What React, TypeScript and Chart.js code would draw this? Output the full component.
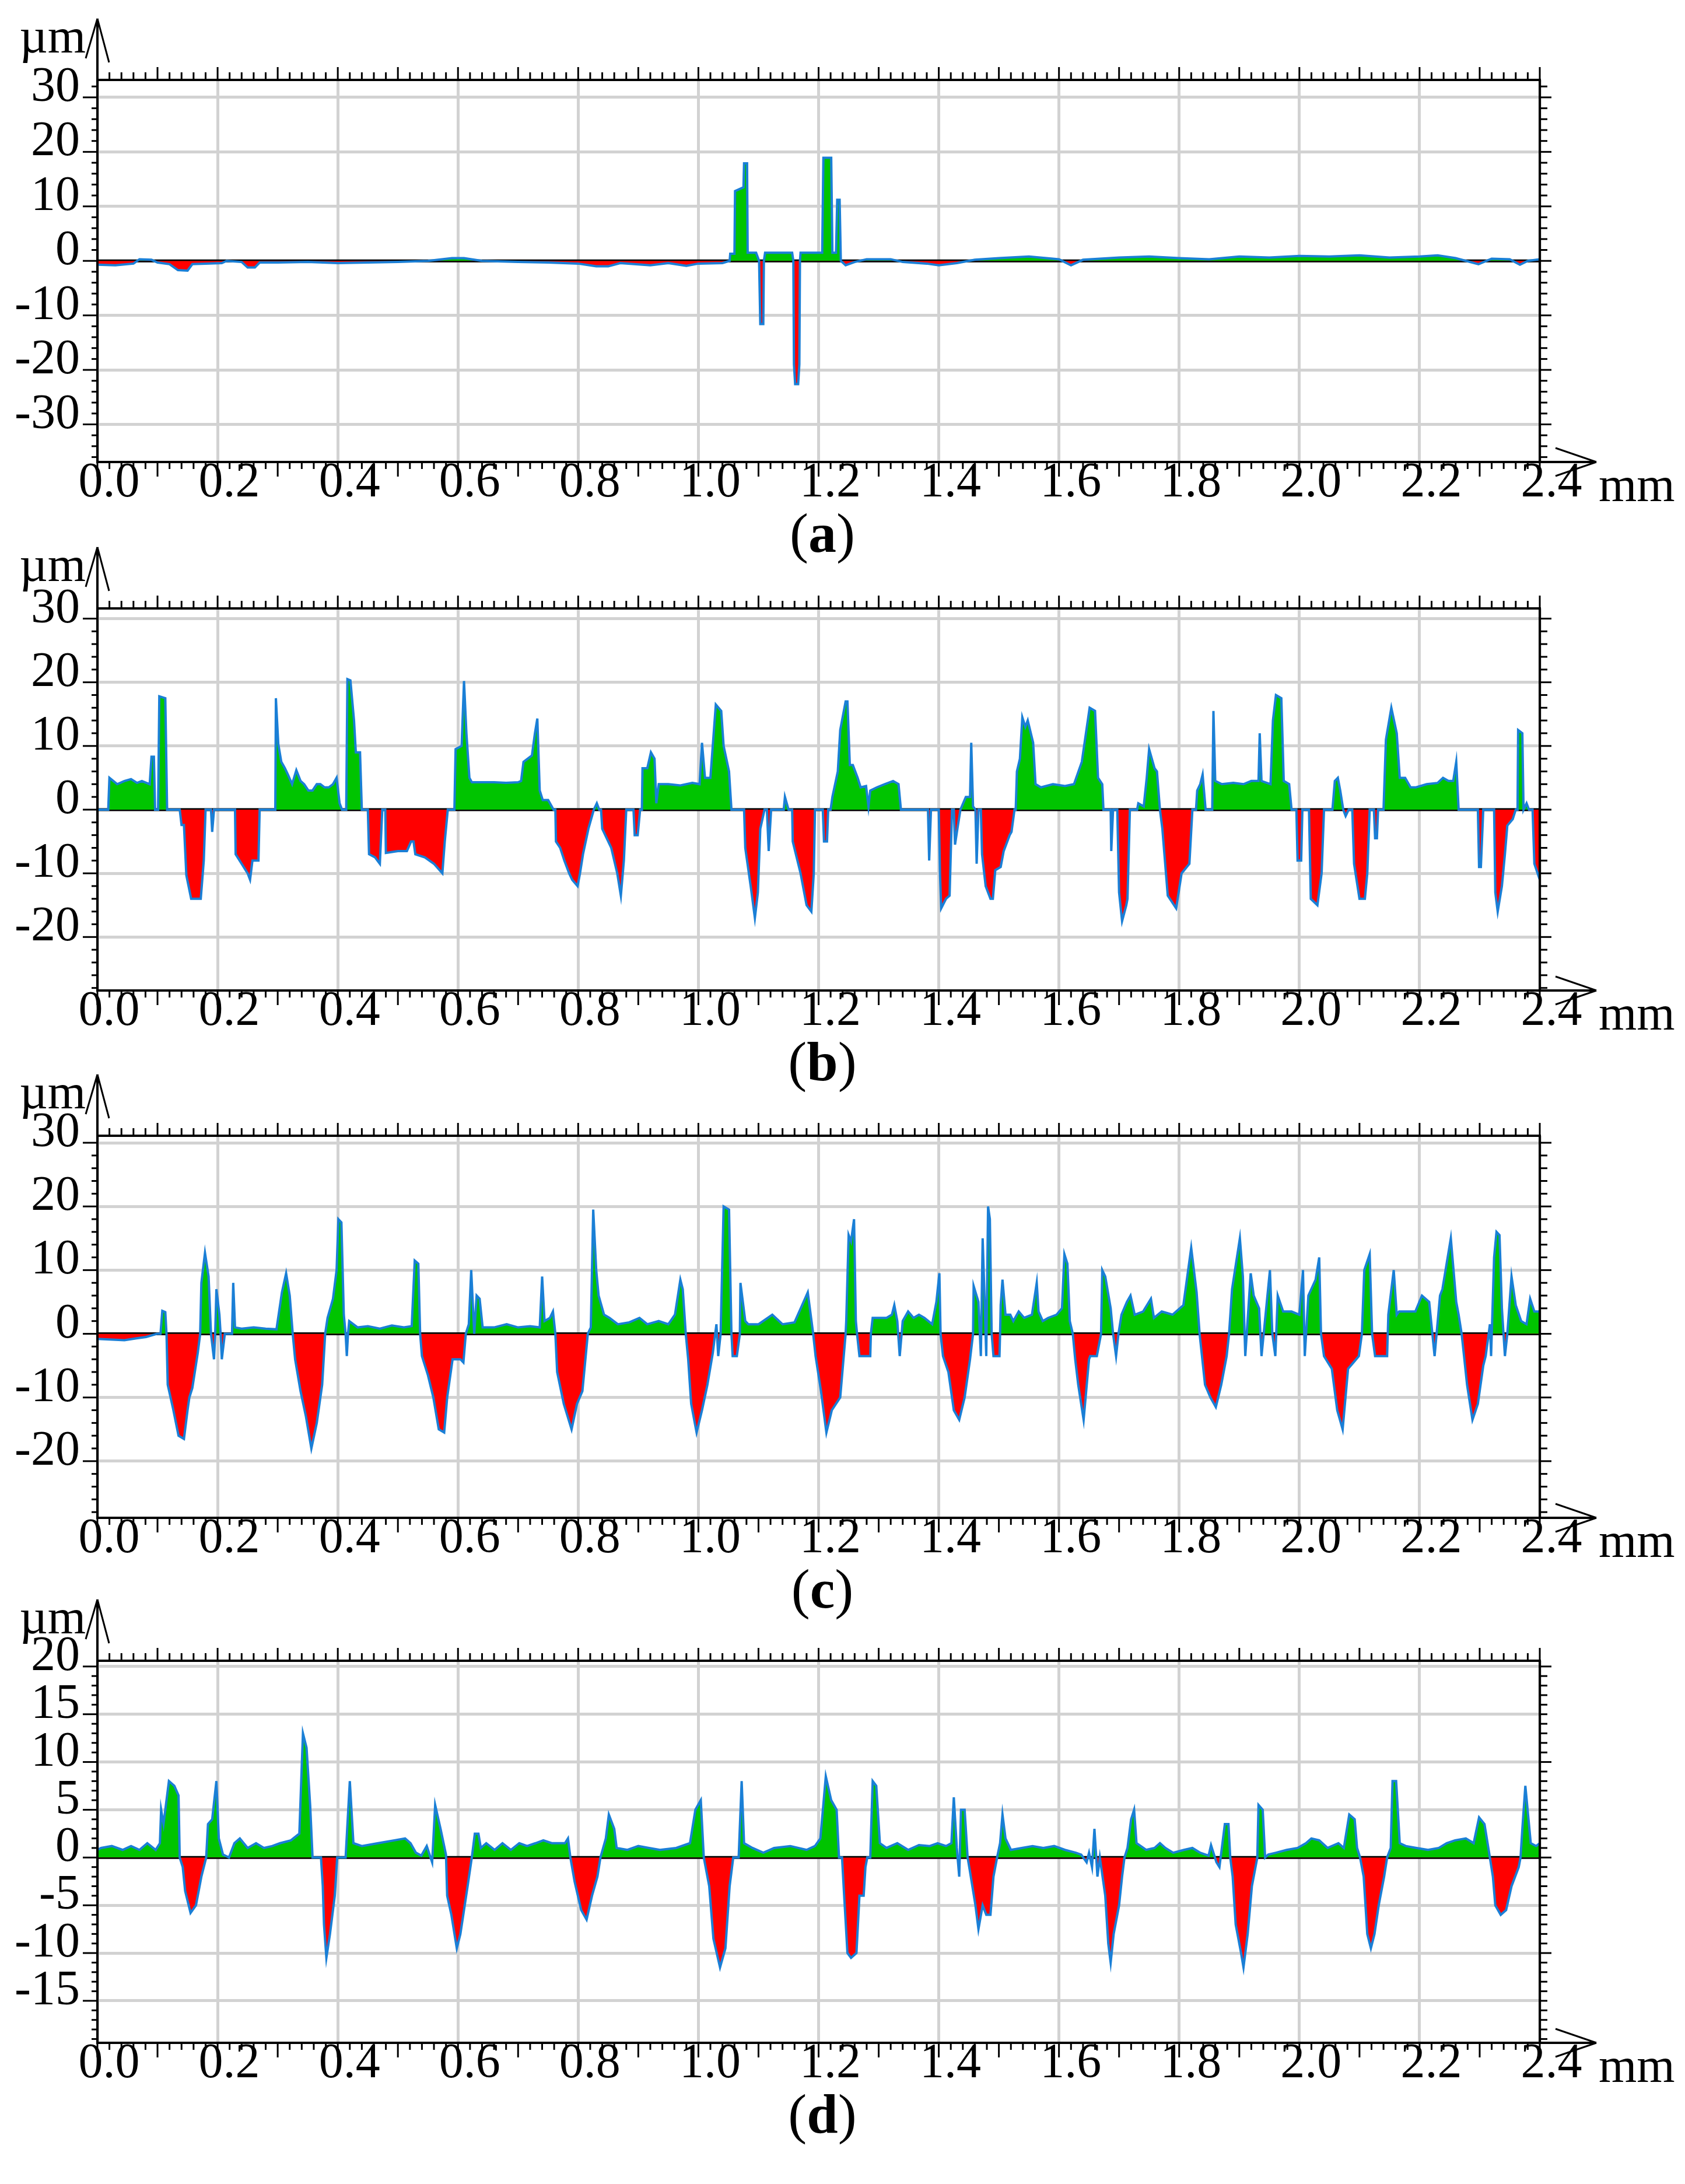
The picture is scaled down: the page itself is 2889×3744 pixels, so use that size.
import React, { useEffect, useRef } from 'react';
import { Chart, registerables } from 'chart.js';

Chart.register(...registerables);

// ---------- data (x in mm, height in µm) ----------
const X_TICKS = [0, 0.2, 0.4, 0.6, 0.8, 1.0, 1.2, 1.4, 1.6, 1.8, 2.0, 2.2, 2.4];
const Y_TICKS_A = [30, 20, 10, 0, -10, -20, -30];
const Y_TICKS_B = [30, 20, 10, 0, -10, -20];
const Y_TICKS_C = [30, 20, 10, 0, -10, -20];
const Y_TICKS_D = [20, 15, 10, 5, 0, -5, -10, -15];

const profileA: [number, number][] = [
  [0, -0.7], [0.03, -0.8], [0.06, -0.5], [0.07, 0.3], [0.09, 0.2], [0.1, -0.3], [0.12, -0.6], [0.134, -1.7],
  [0.15, -1.8], [0.158, -0.6], [0.18, -0.5], [0.207, -0.4], [0.215, 0], [0.24, -0.2], [0.25, -1.2], [0.262, -1.2],
  [0.27, -0.3], [0.3, -0.3], [0.35, -0.2], [0.4, -0.4], [0.45, -0.3], [0.5, -0.2], [0.55, 0], [0.59, 0.5],
  [0.61, 0.5], [0.64, 0], [0.7, -0.2], [0.75, -0.3], [0.8, -0.5], [0.83, -1.0], [0.85, -1.0], [0.87, -0.4],
  [0.92, -0.8], [0.95, -0.4], [0.98, -0.9], [1.0, -0.5], [1.04, -0.4], [1.052, 0], [1.053, 1.3], [1.06, 1.3],
  [1.061, 12.8], [1.075, 13.5], [1.076, 17.9], [1.081, 17.9], [1.082, 1.5], [1.096, 1.5], [1.101, 0], [1.103, -11.6],
  [1.108, -11.6], [1.109, 0], [1.111, 1.5], [1.156, 1.5], [1.158, 0], [1.159, -19], [1.161, -22.6], [1.166, -22.6],
  [1.168, -19], [1.169, 0], [1.17, 1.5], [1.206, 1.5], [1.208, 18.9], [1.221, 18.9], [1.223, 1.5], [1.229, 1.5],
  [1.231, 11.2], [1.235, 11.2], [1.237, 0], [1.245, -0.8], [1.26, -0.2], [1.28, 0.3], [1.32, 0.3], [1.34, -0.2],
  [1.38, -0.5], [1.4, -0.8], [1.43, -0.4], [1.46, 0.2], [1.5, 0.5], [1.55, 0.8], [1.6, 0.3], [1.62, -0.8],
  [1.64, 0.2], [1.7, 0.6], [1.75, 0.8], [1.8, 0.5], [1.85, 0.3], [1.9, 0.8], [1.95, 0.6], [2.0, 0.9],
  [2.05, 0.8], [2.1, 1.0], [2.15, 0.6], [2.2, 0.8], [2.23, 1.0], [2.26, 0.5], [2.298, -0.6], [2.32, 0.4],
  [2.35, 0.3], [2.367, -0.7], [2.38, 0], [2.4, 0.3],
];

const profileB: [number, number][] = [
  [0, 0], [0.018, 0], [0.02, 5.0], [0.033, 4.0], [0.045, 4.5], [0.056, 4.8], [0.066, 4.2], [0.074, 4.5],
  [0.087, 4.0], [0.09, 8.3], [0.094, 8.3], [0.096, 0], [0.101, 0], [0.103, 17.8], [0.113, 17.5], [0.116, 0],
  [0.137, 0], [0.14, -2.4], [0.144, -2.4], [0.148, -10.3], [0.156, -14], [0.172, -14], [0.177, -8], [0.18, 0],
  [0.189, 0], [0.191, -3.5], [0.194, 0], [0.229, 0], [0.23, -7], [0.24, -8.5], [0.25, -10], [0.254, -11],
  [0.258, -8], [0.268, -8], [0.27, 0], [0.296, 0], [0.297, 17.5], [0.301, 10.3], [0.306, 7.5], [0.312, 6.5],
  [0.317, 5.5], [0.324, 4], [0.331, 6.2], [0.338, 4.5], [0.344, 4], [0.351, 3], [0.358, 3], [0.365, 4],
  [0.371, 4], [0.378, 3.5], [0.385, 3.5], [0.392, 4], [0.398, 5], [0.403, 1], [0.407, 0], [0.414, 0],
  [0.416, 20.5], [0.421, 20.3], [0.427, 14], [0.43, 9], [0.437, 9], [0.44, 0], [0.45, 0], [0.452, -7],
  [0.462, -7.5], [0.47, -8.5], [0.474, 0], [0.479, 0], [0.48, -6.8], [0.5, -6.5], [0.515, -6.5], [0.522, -5],
  [0.526, -5], [0.529, -7], [0.545, -7.5], [0.56, -8.5], [0.574, -10], [0.578, -5], [0.583, 0], [0.594, 0],
  [0.596, 9.5], [0.606, 10], [0.61, 20.2], [0.614, 12], [0.619, 5], [0.623, 4.3], [0.64, 4.3], [0.66, 4.3],
  [0.68, 4.2], [0.7, 4.3], [0.705, 4.5], [0.709, 7.5], [0.723, 8.5], [0.728, 12], [0.732, 14.3], [0.736, 3],
  [0.741, 1.5], [0.75, 1.5], [0.759, 0], [0.762, 0], [0.763, -5], [0.77, -6], [0.777, -8], [0.785, -10],
  [0.79, -11], [0.799, -12], [0.803, -10], [0.808, -7], [0.817, -3], [0.826, 0], [0.831, 1], [0.835, 0],
  [0.838, 0], [0.84, -3], [0.855, -6], [0.865, -10], [0.871, -13.5], [0.876, -8], [0.88, 0], [0.892, 0],
  [0.894, -4], [0.899, -4], [0.903, 0], [0.906, 0], [0.907, 6.5], [0.915, 6.5], [0.921, 9], [0.927, 8],
  [0.93, 1], [0.934, 4], [0.95, 4], [0.97, 3.8], [0.99, 4.2], [1.002, 4], [1.006, 10.5], [1.011, 5],
  [1.02, 5], [1.029, 16.5], [1.038, 15.5], [1.042, 10], [1.051, 6], [1.055, 0], [1.076, 0], [1.078, -6],
  [1.087, -12], [1.094, -17], [1.099, -13], [1.103, -3], [1.11, 0], [1.114, 0], [1.117, -6.5], [1.121, 0],
  [1.142, 0], [1.144, 2], [1.15, 0], [1.156, 0], [1.157, -5], [1.17, -10], [1.18, -15], [1.188, -16],
  [1.192, -10], [1.194, 0], [1.207, 0], [1.209, -5], [1.214, -5], [1.216, 0], [1.22, 0], [1.223, 2],
  [1.232, 6], [1.236, 12.5], [1.245, 17], [1.248, 17], [1.252, 7], [1.257, 7], [1.265, 5], [1.27, 3.5],
  [1.279, 3.7], [1.283, 0.5], [1.286, 3], [1.297, 3.5], [1.31, 4], [1.324, 4.5], [1.333, 4], [1.337, 0],
  [1.382, 0], [1.384, -8], [1.387, 0], [1.4, 0], [1.402, -10], [1.404, -15.5], [1.412, -14], [1.418, -13.5],
  [1.422, 0], [1.425, 0], [1.427, -5.5], [1.431, -3], [1.436, 0], [1.445, 2], [1.452, 2], [1.454, 10.5],
  [1.457, 0.5], [1.461, 0], [1.463, -8.5], [1.466, 0], [1.47, 0], [1.472, -7], [1.478, -12], [1.486, -14],
  [1.49, -14], [1.494, -9.5], [1.503, -9], [1.508, -6.5], [1.518, -4], [1.521, -3.5], [1.526, 0], [1.528, 0],
  [1.53, 6], [1.535, 8], [1.539, 14.5], [1.544, 13], [1.548, 14], [1.557, 10.5], [1.561, 4], [1.57, 3.5],
  [1.59, 4], [1.61, 3.7], [1.625, 4], [1.638, 7.5], [1.651, 16], [1.66, 15.5], [1.665, 5], [1.672, 4],
  [1.674, 0], [1.686, 0], [1.687, -6.5], [1.69, 0], [1.697, 0], [1.7, -13], [1.705, -17.5], [1.712, -15],
  [1.714, -14], [1.718, 0], [1.73, 0], [1.732, 1], [1.741, 0.5], [1.746, 5], [1.75, 9.5], [1.759, 6.5],
  [1.763, 6], [1.768, 0], [1.772, -3], [1.781, -13.5], [1.795, -15.5], [1.804, -10], [1.817, -8.5], [1.822, 0],
  [1.828, 0], [1.83, 3], [1.835, 4], [1.839, 5.5], [1.844, 0], [1.855, 0], [1.857, 15.5], [1.86, 4.5],
  [1.871, 4], [1.89, 4.2], [1.907, 4], [1.92, 4.5], [1.932, 4.5], [1.934, 12], [1.937, 4.5], [1.952, 4],
  [1.956, 14], [1.961, 18], [1.97, 17.5], [1.974, 4.5], [1.983, 4], [1.987, 0], [1.995, 0], [1.997, -8],
  [2.003, -8], [2.005, 0], [2.016, 0], [2.019, -14], [2.03, -15], [2.037, -10], [2.041, 0], [2.055, 0],
  [2.059, 4.5], [2.064, 5], [2.068, 3], [2.073, 0], [2.077, -1], [2.082, 0], [2.088, 0], [2.091, -8.5],
  [2.1, -14], [2.109, -14], [2.113, -10], [2.117, 0], [2.124, 0], [2.126, -4.5], [2.129, -4.5], [2.131, 0],
  [2.14, 0], [2.144, 11], [2.153, 16], [2.162, 12], [2.167, 5], [2.176, 5], [2.185, 3.5], [2.194, 3.5],
  [2.212, 4], [2.23, 4.2], [2.239, 5], [2.248, 4.5], [2.256, 4.5], [2.261, 7.5], [2.265, 0], [2.297, 0],
  [2.299, -9], [2.302, -9], [2.306, 0], [2.324, 0], [2.326, -13], [2.33, -16], [2.337, -12], [2.342, -7],
  [2.346, -2.5], [2.355, -1.5], [2.36, 0], [2.363, 0], [2.364, 12.5], [2.371, 12], [2.373, 0], [2.378, 1],
  [2.382, 0], [2.388, 0], [2.391, -8.5], [2.4, -11],
];

const profileC: [number, number][] = [
  [0, -0.8], [0.02, -0.9], [0.045, -1], [0.065, -0.7], [0.081, -0.5], [0.099, 0], [0.105, 0], [0.108, 3.6],
  [0.113, 3.4], [0.115, 0], [0.117, -8], [0.126, -11.8], [0.135, -16], [0.144, -16.5], [0.15, -12], [0.153, -10],
  [0.158, -8.5], [0.167, -3], [0.171, 0], [0.173, 8], [0.179, 12.7], [0.185, 9], [0.189, 0], [0.194, -4],
  [0.196, 0], [0.198, 7], [0.203, 3], [0.205, 0], [0.207, -4], [0.212, 0], [0.224, 0], [0.226, 8],
  [0.229, 1], [0.24, 0.8], [0.26, 1], [0.28, 0.8], [0.298, 0.7], [0.307, 6.5], [0.314, 9.5], [0.32, 6],
  [0.325, 0], [0.329, -4], [0.338, -9], [0.347, -13], [0.356, -18], [0.365, -14], [0.374, -8], [0.379, 0],
  [0.383, 2.5], [0.392, 5.5], [0.398, 10], [0.401, 18], [0.406, 17.5], [0.41, 3], [0.413, 0], [0.415, -3.5],
  [0.417, 0], [0.419, 2], [0.433, 1], [0.45, 1.2], [0.47, 0.8], [0.49, 1.3], [0.51, 1], [0.523, 1.2],
  [0.528, 11.5], [0.534, 11], [0.537, 0], [0.54, -3.5], [0.55, -6.5], [0.559, -10], [0.568, -15], [0.577, -15.5],
  [0.582, -10], [0.591, -4], [0.604, -4], [0.609, -4.5], [0.613, 0], [0.618, 1.5], [0.622, 10], [0.627, 0],
  [0.631, 6], [0.636, 5.5], [0.641, 1], [0.66, 1], [0.681, 1.5], [0.7, 1], [0.72, 1.2], [0.736, 1],
  [0.74, 9], [0.744, 2], [0.753, 2.5], [0.758, 3.5], [0.762, 0], [0.765, -6], [0.776, -11], [0.789, -15],
  [0.798, -11], [0.807, -9], [0.816, 0], [0.821, 1], [0.825, 19.5], [0.83, 10], [0.834, 6], [0.843, 3],
  [0.852, 2.5], [0.866, 1.5], [0.885, 1.8], [0.902, 2.5], [0.915, 1.5], [0.934, 2], [0.95, 1.5], [0.961, 3],
  [0.97, 8.5], [0.974, 7], [0.979, 0], [0.983, -4], [0.988, -11], [0.997, -15.5], [1.006, -12], [1.015, -8],
  [1.024, -3], [1.028, 0], [1.03, 1.5], [1.033, -3.5], [1.037, 0], [1.042, 20], [1.051, 19.5], [1.055, 0],
  [1.057, -3.5], [1.064, -3.5], [1.069, 0], [1.07, 8], [1.074, 5], [1.078, 2], [1.083, 1.5], [1.1, 1.5],
  [1.123, 3], [1.14, 1.5], [1.16, 1.8], [1.182, 6.5], [1.191, 0], [1.195, -3.5], [1.204, -9], [1.213, -15.5],
  [1.222, -12], [1.236, -10], [1.245, 0], [1.246, 2], [1.25, 15.5], [1.254, 14.5], [1.259, 18], [1.262, 2],
  [1.264, 0], [1.268, -3.5], [1.286, -3.5], [1.287, 0], [1.29, 2.5], [1.299, 2.5], [1.313, 2.5], [1.322, 3],
  [1.326, 4.5], [1.331, 2], [1.335, -3.5], [1.34, 2], [1.349, 3.5], [1.358, 2.5], [1.367, 3], [1.376, 2.5],
  [1.389, 1.5], [1.396, 5], [1.401, 9.5], [1.403, 0], [1.407, -3.5], [1.416, -6], [1.425, -12], [1.434, -13.5],
  [1.443, -10], [1.452, -4], [1.457, 0], [1.458, 7.5], [1.466, 5], [1.47, -3.5], [1.473, 15], [1.476, 6],
  [1.479, -3.5], [1.482, 20], [1.485, 18], [1.488, 0], [1.491, -3.5], [1.501, -3.5], [1.502, 0], [1.503, 4.5],
  [1.506, 8.5], [1.511, 3], [1.519, 3], [1.524, 2], [1.533, 3.5], [1.542, 2.5], [1.555, 3], [1.563, 8],
  [1.566, 3.5], [1.573, 2], [1.582, 2.5], [1.596, 3], [1.605, 4], [1.609, 12.5], [1.614, 11], [1.618, 2],
  [1.623, 0], [1.627, -4], [1.632, -8], [1.641, -13.5], [1.65, -4], [1.652, -3.5], [1.663, -3.5], [1.67, 0],
  [1.672, 10], [1.677, 9], [1.686, 4], [1.69, 0], [1.695, -3.5], [1.699, 0], [1.704, 3], [1.713, 5],
  [1.719, 6], [1.726, 3], [1.74, 3.5], [1.753, 5.5], [1.758, 2.5], [1.771, 3.5], [1.789, 3], [1.807, 4.5],
  [1.82, 13.5], [1.829, 6.5], [1.834, 0], [1.843, -8], [1.852, -10], [1.861, -11.5], [1.87, -8], [1.879, -3.5],
  [1.883, 0], [1.888, 7], [1.901, 15], [1.906, 9], [1.91, -3.5], [1.919, 9.5], [1.924, 6], [1.933, 4],
  [1.937, -3.5], [1.951, 10], [1.955, 0], [1.96, -3.5], [1.964, 6], [1.973, 3.5], [1.987, 3.5], [2.0, 3],
  [2.006, 10], [2.009, -3.5], [2.015, 6], [2.027, 8.5], [2.033, 12], [2.036, 0], [2.041, -3.5], [2.054, -5.5],
  [2.063, -12], [2.072, -15], [2.081, -5.5], [2.09, -4.5], [2.099, -3.5], [2.104, 0], [2.108, 10], [2.117, 12.5],
  [2.121, 0], [2.126, -3.5], [2.146, -3.5], [2.148, 3], [2.157, 10], [2.162, 3], [2.166, 3.5], [2.184, 3.5],
  [2.193, 3.5], [2.204, 6], [2.216, 5], [2.225, -3.5], [2.234, 6], [2.238, 7], [2.252, 15], [2.261, 5],
  [2.265, 3], [2.27, 0], [2.274, -3.5], [2.279, -8], [2.288, -13.5], [2.297, -11], [2.306, -5], [2.31, -3.5],
  [2.315, 0], [2.317, 1.5], [2.319, -3.5], [2.324, 12], [2.328, 16], [2.333, 15.5], [2.337, 4], [2.342, -3.5],
  [2.346, 0], [2.353, 9], [2.36, 4.5], [2.369, 2], [2.378, 1.5], [2.384, 5.5], [2.391, 3.5], [2.4, 3.5],
];

const profileD: [number, number][] = [
  [0, 0.8], [0.006, 1], [0.024, 1.2], [0.042, 0.8], [0.056, 1.2], [0.07, 0.8], [0.083, 1.5], [0.097, 0.8],
  [0.104, 1.5], [0.106, 5], [0.11, 3.5], [0.119, 8], [0.128, 7.5], [0.135, 6.5], [0.137, 0], [0.142, -1],
  [0.146, -3.5], [0.155, -5.8], [0.164, -5], [0.173, -2], [0.181, 0], [0.184, 3.5], [0.191, 4], [0.198, 8],
  [0.202, 2], [0.209, 0.3], [0.219, 0], [0.228, 1.5], [0.237, 2], [0.25, 1], [0.264, 1.5], [0.277, 1],
  [0.291, 1.2], [0.304, 1.5], [0.322, 1.8], [0.336, 2.5], [0.342, 13], [0.348, 11.5], [0.354, 5.5], [0.358, 0],
  [0.372, 0], [0.375, -3], [0.377, -7], [0.381, -10.5], [0.387, -8], [0.395, -4], [0.399, 0], [0.413, 0],
  [0.42, 8], [0.426, 1.5], [0.44, 1.2], [0.467, 1.5], [0.494, 1.8], [0.512, 2], [0.521, 1.5], [0.53, 0.5],
  [0.539, 0.2], [0.548, 1.2], [0.557, -0.5], [0.562, 5.5], [0.571, 3], [0.58, 0.3], [0.582, -4], [0.589, -6],
  [0.598, -9.5], [0.604, -8], [0.616, -3], [0.623, 0], [0.628, 2.5], [0.634, 2.5], [0.638, 1], [0.647, 1.5],
  [0.661, 0.8], [0.674, 1.5], [0.688, 0.8], [0.702, 1.5], [0.715, 1.2], [0.729, 1.5], [0.742, 1.8], [0.756, 1.5],
  [0.778, 1.5], [0.783, 2], [0.787, 0], [0.794, -2.5], [0.805, -5.5], [0.814, -6.5], [0.823, -4], [0.832, -2],
  [0.837, 0], [0.846, 2], [0.851, 4.5], [0.86, 3], [0.864, 1], [0.882, 0.8], [0.9, 1.2], [0.918, 1],
  [0.936, 0.8], [0.963, 1], [0.986, 1.5], [0.995, 5], [1.004, 6], [1.009, 0], [1.018, -3], [1.025, -8.5],
  [1.036, -11.5], [1.045, -9.5], [1.052, -3], [1.058, 0], [1.067, 0], [1.072, 8], [1.076, 1.5], [1.09, 1],
  [1.108, 0.5], [1.126, 1], [1.153, 1.2], [1.18, 0.8], [1.194, 1.2], [1.203, 2], [1.212, 8.5], [1.221, 6],
  [1.23, 5], [1.234, 0], [1.239, 0], [1.243, -4.5], [1.248, -10], [1.254, -10.5], [1.263, -10], [1.268, -4],
  [1.275, -4], [1.278, -1], [1.281, 0], [1.286, 0], [1.29, 8], [1.296, 7.5], [1.302, 1.5], [1.313, 1],
  [1.331, 1.5], [1.349, 0.8], [1.367, 1.3], [1.385, 1.2], [1.398, 1.5], [1.412, 1.2], [1.421, 1.5], [1.425, 6.3],
  [1.43, 1], [1.434, -2], [1.437, 5], [1.443, 5], [1.448, 0], [1.452, -1.5], [1.461, -5], [1.466, -7.5],
  [1.473, -5], [1.479, -6], [1.486, -6], [1.491, -2], [1.497, 0], [1.502, 1.5], [1.506, 4.5], [1.511, 2],
  [1.52, 0.8], [1.538, 1], [1.556, 1.2], [1.574, 1], [1.592, 1.2], [1.61, 0.8], [1.628, 0.5], [1.637, 0.3],
  [1.646, -0.5], [1.65, 0.5], [1.655, -1], [1.659, 3], [1.664, -2], [1.668, 0], [1.677, -4], [1.682, -9],
  [1.686, -11], [1.691, -8], [1.7, -5], [1.705, -2], [1.709, 0], [1.714, 1], [1.72, 4], [1.725, 5],
  [1.729, 1.5], [1.745, 0.8], [1.759, 1], [1.768, 1.5], [1.777, 1], [1.79, 0.5], [1.808, 0.8], [1.822, 1],
  [1.835, 0.5], [1.849, 0.2], [1.853, 1.3], [1.862, -0.5], [1.867, -1], [1.876, 3.5], [1.882, 3.5], [1.885, 0],
  [1.889, -2], [1.894, -7], [1.903, -10], [1.907, -11.5], [1.914, -8], [1.921, -3], [1.93, 0], [1.932, 5.5],
  [1.939, 5], [1.943, 0], [1.948, 0.3], [1.961, 0.5], [1.979, 0.8], [1.997, 1], [2.011, 1.5], [2.02, 2],
  [2.033, 1.8], [2.047, 1], [2.065, 1.5], [2.074, 1], [2.083, 4.5], [2.092, 4], [2.096, 1], [2.101, 0],
  [2.107, -2], [2.113, -8], [2.119, -9.5], [2.125, -8], [2.132, -5], [2.141, -2], [2.146, 0], [2.152, 1],
  [2.155, 8], [2.161, 8], [2.167, 1.5], [2.177, 1.2], [2.195, 1], [2.214, 0.8], [2.232, 1], [2.245, 1.5],
  [2.259, 1.8], [2.277, 2], [2.29, 1.5], [2.299, 4.2], [2.308, 3.5], [2.317, 0], [2.322, -2], [2.326, -5],
  [2.335, -6], [2.344, -5.5], [2.353, -3], [2.365, -1], [2.368, 0], [2.371, 3], [2.376, 7.5], [2.385, 1.5],
  [2.394, 1.2], [2.4, 1.5],
];

// ---------- layout ----------
const PAGE_W = 2889;
const PAGE_H = 3744;
const PLOT_LEFT = 167;
const PLOT_RIGHT = 2640;
const PLOT_TOP_IN_CANVAS = 137;
const PLOT_H = 655;
const Y_AXIS_W = 150;
const X_AXIS_H = 100;
const CANVAS_H = 1020;
const FONT = '"Liberation Serif", "Times New Roman", serif';

type Panel = {
  letter: string;
  data: [number, number][];
  yTicks: number[];
  yMin: number;
  yMax: number;
  plotTop: number;
  minorStep: number;
  labelStep: number;
};

const PANELS: Panel[] = [
  { letter: 'a', data: profileA, yTicks: Y_TICKS_A, yMin: -36.9, yMax: 33.2, plotTop: 137, minorStep: 2, labelStep: 10 },
  { letter: 'b', data: profileB, yTicks: Y_TICKS_B, yMin: -28.4, yMax: 31.6, plotTop: 1043, minorStep: 2, labelStep: 10 },
  { letter: 'c', data: profileC, yTicks: Y_TICKS_C, yMin: -28.9, yMax: 31.1, plotTop: 1947, minorStep: 2, labelStep: 10 },
  { letter: 'd', data: profileD, yTicks: Y_TICKS_D, yMin: -19.4, yMax: 20.6, plotTop: 2847, minorStep: 1, labelStep: 5 },
];

function makeDecor(p: Panel) {
  return {
    id: 'decor_' + p.letter,
    beforeDatasetsDraw(chart: any) {
      const { ctx, chartArea: a, scales } = chart;
      const y0 = scales.y.getPixelForValue(0);
      ctx.save();
      ctx.strokeStyle = '#000';
      ctx.lineWidth = 5;
      ctx.beginPath();
      ctx.moveTo(a.left, y0);
      ctx.lineTo(a.right, y0);
      ctx.stroke();
      ctx.restore();
    },
    afterDraw(chart: any) {
      const { ctx, chartArea: a, scales } = chart;
      const xs = scales.x;
      const ys = scales.y;
      const seg = (x1: number, y1: number, x2: number, y2: number) => {
        ctx.beginPath();
        ctx.moveTo(x1, y1);
        ctx.lineTo(x2, y2);
        ctx.stroke();
      };
      ctx.save();
      ctx.strokeStyle = '#000';
      ctx.lineCap = 'butt';
      // frame
      ctx.lineWidth = 4;
      ctx.strokeRect(a.left, a.top, a.right - a.left, a.bottom - a.top);
      // x ticks (top and bottom)
      ctx.lineWidth = 3;
      for (let i = 0; i <= 120; i++) {
        const px = xs.getPixelForValue(i * 0.02);
        const major = i % 5 === 0;
        seg(px, a.top, px, a.top - (major ? 22 : 13));
        seg(px, a.bottom, px, a.bottom + (major ? 25 : 12));
      }
      // y ticks (left and right)
      const i0 = Math.ceil(ys.min / p.minorStep);
      const i1 = Math.floor(ys.max / p.minorStep);
      for (let i = i0; i <= i1; i++) {
        const v = i * p.minorStep;
        const py = ys.getPixelForValue(v);
        const majL = Math.abs(v % p.labelStep) < 1e-9;
        const majR = Math.abs(v % 10) < 1e-9;
        seg(a.left - (majL ? 25 : 10), py, a.left, py);
        seg(a.right, py, a.right + (majR ? 20 : 13), py);
      }
      // y arrow
      ctx.lineWidth = 4;
      const tipY = a.top - 105;
      seg(a.left, a.top, a.left, tipY);
      ctx.lineWidth = 3;
      seg(a.left, tipY, a.left - 20, tipY + 68);
      seg(a.left, tipY, a.left + 20, tipY + 75);
      // x arrow
      ctx.lineWidth = 4;
      const tipX = a.right + 97;
      seg(a.right, a.bottom, tipX, a.bottom);
      ctx.lineWidth = 3;
      seg(tipX, a.bottom, tipX - 70, a.bottom - 24);
      seg(tipX, a.bottom, tipX - 70, a.bottom + 24);
      // unit labels
      ctx.fillStyle = '#000';
      ctx.font = `84px ${FONT}`;
      ctx.textBaseline = 'alphabetic';
      ctx.textAlign = 'right';
      ctx.fillText('µm', a.left - 20, a.top - 47);
      ctx.textAlign = 'left';
      ctx.fillText('mm', a.right + 101, a.bottom + 67);
      // caption (x)
      const cap = 96;
      ctx.font = `${cap}px ${FONT}`;
      const wl = ctx.measureText('(').width;
      const wr = ctx.measureText(')').width;
      ctx.font = `bold ${cap}px ${FONT}`;
      const wm = ctx.measureText(p.letter).width;
      const total = wl + wm + wr;
      let cx = 1410 - total / 2;
      const by = a.bottom + 154;
      ctx.font = `${cap}px ${FONT}`;
      ctx.fillText('(', cx, by);
      cx += wl;
      ctx.font = `bold ${cap}px ${FONT}`;
      ctx.fillText(p.letter, cx, by);
      cx += wm;
      ctx.font = `${cap}px ${FONT}`;
      ctx.fillText(')', cx, by);
      ctx.restore();
    },
  };
}

function ProfilePanel({ panel }: { panel: Panel }) {
  const ref = useRef<HTMLCanvasElement | null>(null);
  useEffect(() => {
    if (!ref.current) return;
    const chart = new Chart(ref.current, {
      type: 'line',
      data: {
        datasets: [
          {
            data: panel.data.map(([x, y]) => ({ x, y })),
            borderColor: '#1a7fd6',
            borderWidth: 4,
            pointRadius: 0,
            tension: 0,
            fill: { target: 'origin', above: '#00c400', below: '#ff0000' },
          },
        ],
      },
      options: {
        animation: false,
        responsive: false,
        maintainAspectRatio: false,
        devicePixelRatio: 1,
        events: [],
        layout: {
          padding: {
            left: PLOT_LEFT - Y_AXIS_W,
            right: PAGE_W - PLOT_RIGHT,
            top: PLOT_TOP_IN_CANVAS,
            bottom: CANVAS_H - PLOT_TOP_IN_CANVAS - PLOT_H - X_AXIS_H,
          },
        },
        plugins: { legend: { display: false }, tooltip: { enabled: false } },
        scales: {
          x: {
            type: 'linear',
            min: 0,
            max: 2.4,
            afterBuildTicks: (s: any) => {
              s.ticks = X_TICKS.map((v) => ({ value: v }));
            },
            afterFit: (s: any) => {
              s.height = X_AXIS_H;
            },
            ticks: {
              autoSkip: false,
              maxRotation: 0,
              minRotation: 0,
              padding: -5,
              labelOffset: 20,
              color: '#000',
              font: { family: FONT, size: 84, lineHeight: 1 },
              callback: (v: any) => Number(v).toFixed(1),
            },
            grid: { color: '#d2d2d2', lineWidth: 5, drawTicks: false },
            border: { display: false },
          },
          y: {
            type: 'linear',
            min: panel.yMin,
            max: panel.yMax,
            afterBuildTicks: (s: any) => {
              s.ticks = panel.yTicks.map((v) => ({ value: v }));
            },
            afterFit: (s: any) => {
              s.width = Y_AXIS_W;
            },
            ticks: {
              autoSkip: false,
              padding: 30,
              labelOffset: -16,
              color: '#000',
              font: { family: FONT, size: 84, lineHeight: 1 },
              callback: (v: any) => String(v),
            },
            grid: { color: '#d2d2d2', lineWidth: 5, drawTicks: false },
            border: { display: false },
          },
        },
      } as any,
      plugins: [makeDecor(panel)],
    });
    return () => chart.destroy();
  }, [panel]);
  return (
    <canvas
      ref={ref}
      width={PAGE_W}
      height={CANVAS_H}
      style={{ position: 'absolute', left: 0, top: panel.plotTop - PLOT_TOP_IN_CANVAS, width: PAGE_W, height: CANVAS_H }}
    />
  );
}

export default function App() {
  return (
    <div style={{ position: 'absolute', left: 0, top: 0, width: PAGE_W, height: PAGE_H, background: '#fff', overflow: 'hidden' }}>
      {PANELS.map((p) => (
        <ProfilePanel key={p.letter} panel={p} />
      ))}
    </div>
  );
}
